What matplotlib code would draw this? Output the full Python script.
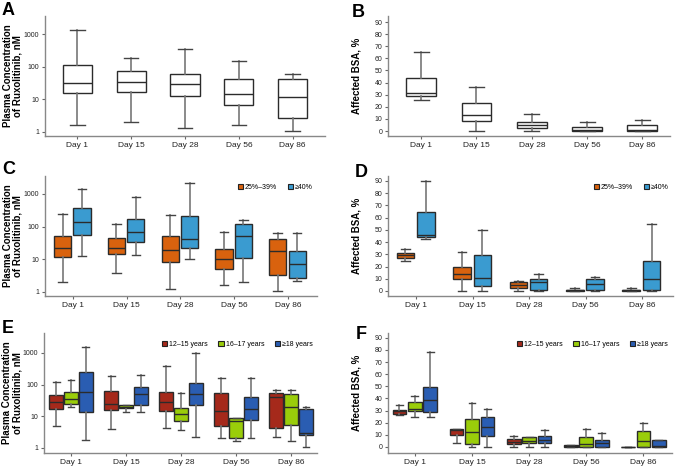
import matplotlib
matplotlib.use("Agg")
import matplotlib.pyplot as plt
from matplotlib.patches import Patch

days = ["Day 1", "Day 15", "Day 28", "Day 56", "Day 86"]

# box stats per day: [whisker low, q1, median, q3, whisker high]
conc_all = [[1.7, 16, 32, 112, 1350], [2.1, 17, 35, 75, 183], [1.3, 12.7, 31, 62, 370],
            [1.64, 6.7, 14.4, 42, 155], [1.1, 2.75, 11.6, 42, 63]]
bsa_all = [[25.3, 28.6, 31, 44, 65], [0, 8, 13, 23.4, 36], [0, 2.2, 5, 7.7, 14],
           [0, 0, 0.5, 3, 7.2], [0, 0, 0.8, 4.7, 8.8]]

bsa_groups = ["25%\u201339%", "\u226540%"]
conc_bsa_low = [[2.0, 11.9, 22, 52, 237], [3.8, 15, 22.4, 44, 117], [1.24, 8.5, 19, 52, 220],
                [1.64, 5.1, 10, 21.4, 68], [1.1, 3.2, 17.7, 43, 62]]
conc_bsa_high = [[12.2, 55, 138, 370, 1420], [13.4, 33.5, 68, 170, 810], [10, 22, 41.5, 205, 2180],
                 [2.0, 10.8, 50, 120, 155], [2.1, 2.6, 7.1, 18.6, 62]]
bsa_bsa_low = [[24.8, 26.7, 29.7, 31, 34.4], [0, 9.8, 13.6, 19.9, 31.6], [0, 2.2, 4.6, 7.4, 8.2],
               [0, 0, 0.5, 1.1, 2.5], [0, 0, 0.5, 0.8, 2.7]]
bsa_bsa_high = [[42.8, 44.5, 45.5, 64.4, 90], [0, 4.4, 10.6, 29.7, 50], [0, 1.1, 7.1, 9.8, 13.6],
                [0, 0.8, 6, 10.1, 11.5], [0, 1.1, 10.1, 24.8, 54.5]]

age_groups = ["12\u201315 years", "16\u201317 years", "\u226518 years"]
conc_age_12 = [[4.8, 17, 28.4, 46, 117], [4.0, 16, 24, 64, 190], [4.2, 15.2, 27.7, 57, 400],
               [2.0, 4.8, 14.4, 56, 164], [2.2, 4.3, 42, 53, 67]]
conc_age_16 = [[20.3, 24, 34.6, 60, 142], [13.8, 18, 20.3, 22.4, 22.4], [3.8, 6.9, 12.2, 18, 56],
               [1.7, 2.1, 7.2, 9.1, 9.1], [1.7, 5.4, 19.3, 49, 67]]
conc_age_18 = [[1.8, 13.5, 58, 253, 1540], [13.5, 22.8, 49, 84, 204], [2.2, 22.8, 49, 114, 1000],
               [2.05, 7.9, 17.5, 40, 164], [1.1, 2.55, 2.95, 17, 20]]
bsa_age_12 = [[26, 27.1, 29.6, 30.7, 34.9], [3.6, 9.7, 13.9, 15.2, 15.2], [0, 2.8, 4.4, 6.4, 8.9],
              [0, 0, 0.6, 1.4, 1.7], [0, 0, 0, 0, 0]]
bsa_age_16 = [[24.9, 29.9, 31, 37.1, 42.4], [0.3, 2.2, 12.2, 22.7, 36.3], [0, 3, 5.3, 7.8, 8],
              [0, 0.3, 2.2, 8.6, 14.7], [0, 0.3, 5.3, 13, 19.7]]
bsa_age_18 = [[24.9, 28.8, 38.5, 49.3, 78.1], [0, 9.4, 16.6, 24.9, 31.3], [0, 3, 5.8, 8.9, 13.9],
              [0, 0, 3, 5.5, 11.9], [0, 0, 0.8, 5.8, 5.8]]

c_orange = "#D9620E"
c_lblue = "#3A9BD0"
c_red = "#A5291B"
c_lime = "#9ACD0A"
c_dblue = "#2A5DB2"

plt.rcParams["font.family"] = ["Liberation Sans", "DejaVu Sans"]

fig = plt.figure(figsize=(6.77, 4.68), dpi=100)
W, H = 677.0, 468.0


def make_ax(left, right, top, bottom):
    return fig.add_axes([left / W, 1 - bottom / H, (right - left) / W, (bottom - top) / H])


def stats(rows):
    return [dict(whislo=r[0], q1=r[1], med=r[2], q3=r[3], whishi=r[4]) for r in rows]


def draw(ax, series, colors, offsets, width):
    for rows, col, off in zip(series, colors, offsets):
        pos = [i + off for i in range(len(rows))]
        ax.bxp(stats(rows), positions=pos, widths=width, showfliers=False, patch_artist=True,
               boxprops=dict(facecolor=col, edgecolor="#2b2b2b", linewidth=1.0),
               medianprops=dict(color="#2b2b2b", linewidth=1.0),
               whiskerprops=dict(color="#777777", linewidth=1.2),
               capprops=dict(color="#444444", linewidth=1.0),
               capwidths=width * 0.5)


def style(ax, log, xlim, ylim, ylabel, label_x):
    for s in ["top", "right"]:
        ax.spines[s].set_visible(False)
    for s in ["left", "bottom"]:
        ax.spines[s].set_color("#888888")
        ax.spines[s].set_linewidth(1.0)
    if log:
        ax.set_yscale("log")
        ax.set_yticks([1, 10, 100, 1000])
        ax.set_yticklabels(["1", "10", "100", "1000"])
        ax.minorticks_off()
    else:
        ax.set_yticks(range(0, 91, 10))
    ax.set_xlim(*xlim)
    ax.set_ylim(*ylim)
    ax.set_xticks(range(len(days)))
    ax.set_xticklabels(days)
    ax.tick_params(axis="both", color="#666666", length=2.5, width=0.8,
                   labelcolor="#222222", pad=1.5)
    ax.tick_params(axis="x", labelsize=6.0)
    ax.tick_params(axis="y", labelsize=5.0)
    ax.set_ylabel(ylabel, fontsize=7.0, fontweight="bold", linespacing=1.0)
    ax.yaxis.set_label_coords(label_x, 0.5)


conc_label = "Plasma Concentration\nof Ruxolitinib, nM"
bsa_label = "Affected BSA, %"

axA = make_ax(45, 325, 16, 136)
draw(axA, [conc_all], ["white"], [0], 0.54)
style(axA, True, (-0.6, 4.6), (0.753, 3700), conc_label, -0.08)

axB = make_ax(388, 670, 16, 136)
draw(axB, [bsa_all], ["white"], [0], 0.54)
style(axB, False, (-0.6, 4.5), (-4.1, 95), bsa_label, -0.095)

axC = make_ax(45, 317, 176, 296)
draw(axC, [conc_bsa_low, conc_bsa_high], [c_orange, c_lblue], [-0.19, 0.17], 0.32)
style(axC, True, (-0.52, 4.54), (0.754, 3550), conc_label, -0.082)

axD = make_ax(388, 673, 176, 296)
draw(axD, [bsa_bsa_low, bsa_bsa_high], [c_orange, c_lblue], [-0.19, 0.17], 0.31)
style(axD, False, (-0.5, 4.55), (-4.1, 94), bsa_label, -0.094)

axE = make_ax(44, 317, 333, 453)
draw(axE, [conc_age_12, conc_age_16, conc_age_18], [c_red, c_lime, c_dblue], [-0.27, 0, 0.27], 0.25)
style(axE, True, (-0.49, 4.47), (0.695, 4270), conc_label, -0.08)

axF = make_ax(388, 672, 333, 453)
draw(axF, [bsa_age_12, bsa_age_16, bsa_age_18], [c_red, c_lime, c_dblue], [-0.27, 0, 0.27], 0.24)
style(axF, False, (-0.47, 4.5), (-5, 94), bsa_label, -0.094)


def add_legend(ax, labels, colors):
    handles = [Patch(facecolor=c, edgecolor="#222222", linewidth=0.8) for c in colors]
    ax.legend(handles, labels, loc="upper right", bbox_to_anchor=(1.0, 0.97), ncol=len(labels),
              frameon=False, fontsize=5.0, handlelength=0.75, handleheight=0.75,
              handletextpad=0.3, columnspacing=1.5, borderaxespad=0.2)


add_legend(axC, bsa_groups, [c_orange, c_lblue])
add_legend(axD, bsa_groups, [c_orange, c_lblue])
add_legend(axE, age_groups, [c_red, c_lime, c_dblue])
add_legend(axF, age_groups, [c_red, c_lime, c_dblue])

for letter, x, y in [("A", 2, 2), ("B", 352, 4), ("C", 2, 161), ("D", 355, 164),
                     ("E", 2, 320), ("F", 356, 326)]:
    fig.text(x / W, 1 - y / H, letter, fontsize=13, fontweight="bold", va="top", ha="left")

fig.savefig("out.png", dpi=100)
